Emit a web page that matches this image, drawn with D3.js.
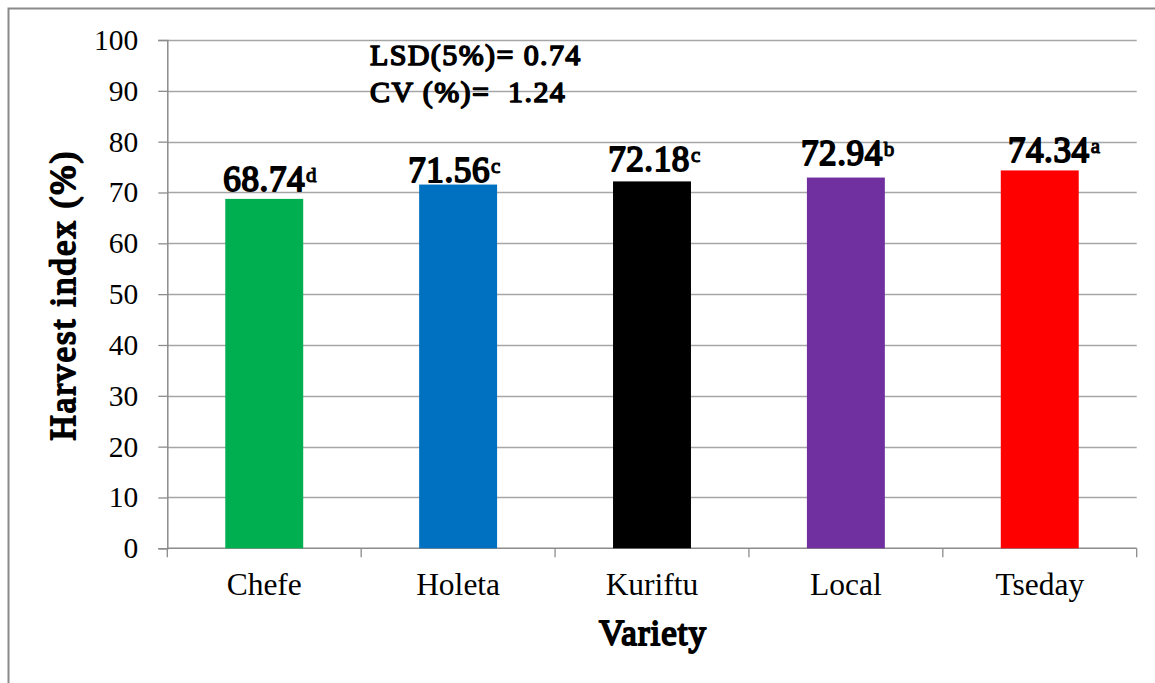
<!DOCTYPE html>
<html>
<head>
<meta charset="utf-8">
<script src="https://cdn.jsdelivr.net/npm/d3@7"></script>
<style>
  html, body { margin: 0; padding: 0; background: #fff; }
  svg { display: block; }
  text { font-family: "Liberation Serif", "Times New Roman", serif; }
  /* heavy serif text: regular face thickened with a matching stroke */
  .heavy { font-weight: normal; stroke: #000; stroke-linejoin: round; fill: #000; }
</style>
</head>
<body>
<svg id="chart" width="1155" height="683"></svg>
<script>
// Harvest index by variety
const varieties = ["Chefe", "Holeta", "Kuriftu", "Local", "Tseday"];
const harvestIndex = [68.74, 71.56, 72.18, 72.94, 74.34];
const meanLetters = ["d", "c", "c", "b", "a"];
const barColors = ["#00B050", "#0070C0", "#000000", "#7030A0", "#FF0000"];
const yTicks = [0, 10, 20, 30, 40, 50, 60, 70, 80, 90, 100];
const statLines = ["LSD(5%)= 0.74", "CV (%)=  1.24"];

// hand-placed label offsets [dx, gap above bar]
const labelPlacement = [[0, 8], [-9, 2.5], [-3, 10], [-4, 12.5], [9, 8.5]];

const svg = d3.select("#chart");
const W = 1155, H = 683;
const plot = { left: 167.3, right: 1136.7, top: 40, bottom: 548.3 };

// outer frame (runs past the right and bottom edges)
svg.append("rect")
  .attr("x", 8.5).attr("y", 8.5)
  .attr("width", W + 20).attr("height", H + 20)
  .attr("fill", "none").attr("stroke", "#8a8a8a").attr("stroke-width", 2);

const x = d3.scaleBand()
  .domain(varieties)
  .range([plot.left, plot.right])
  .paddingInner(0).paddingOuter(0);

const y = d3.scaleLinear().domain([0, 100]).range([plot.bottom, plot.top]);

// horizontal gridlines
svg.append("g")
  .selectAll("line")
  .data(yTicks.filter(d => d > 0))
  .join("line")
  .attr("x1", plot.left).attr("x2", plot.right)
  .attr("y1", d => Math.round(y(d)) + 0.5).attr("y2", d => Math.round(y(d)) + 0.5)
  .attr("stroke", "#a6a6a6").attr("stroke-width", 1.3);

// y axis
const yAxis = svg.append("g")
  .attr("transform", `translate(${plot.left},0)`)
  .call(d3.axisLeft(y).tickValues(yTicks).tickSize(9).tickPadding(20).tickFormat(d3.format("d")));
yAxis.select(".domain").attr("stroke", "#8c8c8c").attr("stroke-width", 1.5);
yAxis.selectAll(".tick line").attr("stroke", "#8c8c8c").attr("stroke-width", 1.3);
yAxis.selectAll(".tick text")
  .attr("font-family", "Liberation Serif, Times New Roman, serif")
  .attr("font-size", 29.5).attr("fill", "#000");

// x axis with boundary ticks between categories
const xg = svg.append("g");
xg.append("line")
  .attr("x1", plot.left).attr("x2", plot.right)
  .attr("y1", plot.bottom).attr("y2", plot.bottom)
  .attr("stroke", "#8c8c8c").attr("stroke-width", 1.5);
const boundaries = varieties.map(v => x(v)).concat([x(varieties[varieties.length - 1]) + x.bandwidth()]);
xg.selectAll("line.bt")
  .data(boundaries)
  .join("line")
  .attr("class", "bt")
  .attr("x1", d => d).attr("x2", d => d)
  .attr("y1", plot.bottom).attr("y2", plot.bottom + 9)
  .attr("stroke", "#8c8c8c").attr("stroke-width", 1.3);
xg.selectAll("text")
  .data(varieties)
  .join("text")
  .attr("x", d => x(d) + x.bandwidth() / 2)
  .attr("y", 595)
  .attr("text-anchor", "middle")
  .attr("font-size", 31.5)
  .text(d => d);

// bars
const barW = x.bandwidth() * 0.402;
svg.append("g")
  .selectAll("rect")
  .data(harvestIndex)
  .join("rect")
  .attr("x", (d, i) => x(varieties[i]) + (x.bandwidth() - barW) / 2)
  .attr("width", barW)
  .attr("y", d => y(d))
  .attr("height", d => y(0) - y(d))
  .attr("fill", (d, i) => barColors[i]);

// value labels with significance letters
const labels = svg.append("g")
  .selectAll("g")
  .data(harvestIndex)
  .join("g")
  .attr("transform", (d, i) => {
    const cx = x(varieties[i]) + x.bandwidth() / 2 + labelPlacement[i][0];
    return `translate(${cx},${y(d) - labelPlacement[i][1]})`;
  });
labels.append("text")
  .attr("class", "num heavy")
  .attr("text-anchor", "middle")
  .attr("font-size", 35)
  .style("letter-spacing", "0.6px")
  .style("stroke-width", "1.9px")
  .text(d => d3.format(".2f")(d));
labels.each(function (d, i) {
  const g = d3.select(this);
  const w = g.select("text.num").node().getComputedTextLength();
  g.append("text")
    .attr("class", "heavy")
    .attr("x", w / 2 + 1)
    .attr("y", -9)
    .attr("font-size", 21)
    .style("stroke-width", "1.1px")
    .text(meanLetters[i]);
});

// statistics note
svg.append("g")
  .selectAll("text")
  .data(statLines)
  .join("text")
  .attr("class", "heavy")
  .attr("x", 370)
  .attr("y", (d, i) => 65 + i * 36.7)
  .attr("font-size", 30)
  .style("letter-spacing", "1.4px")
  .style("stroke-width", "1.6px")
  .style("white-space", "pre")
  .text(d => d);

// axis titles
svg.append("text")
  .attr("class", "heavy")
  .attr("transform", `translate(75,${(plot.top + plot.bottom) / 2 + 1}) rotate(-90)`)
  .attr("text-anchor", "middle")
  .attr("font-size", 35)
  .style("letter-spacing", "2px")
  .style("stroke-width", "1.9px")
  .text("Harvest index (%)");

svg.append("text")
  .attr("class", "heavy")
  .attr("x", (plot.left + plot.right) / 2 + 1)
  .attr("y", 645)
  .attr("text-anchor", "middle")
  .attr("font-size", 35)
  .style("letter-spacing", "1px")
  .style("stroke-width", "1.9px")
  .text("Variety");
</script>
</body>
</html>
